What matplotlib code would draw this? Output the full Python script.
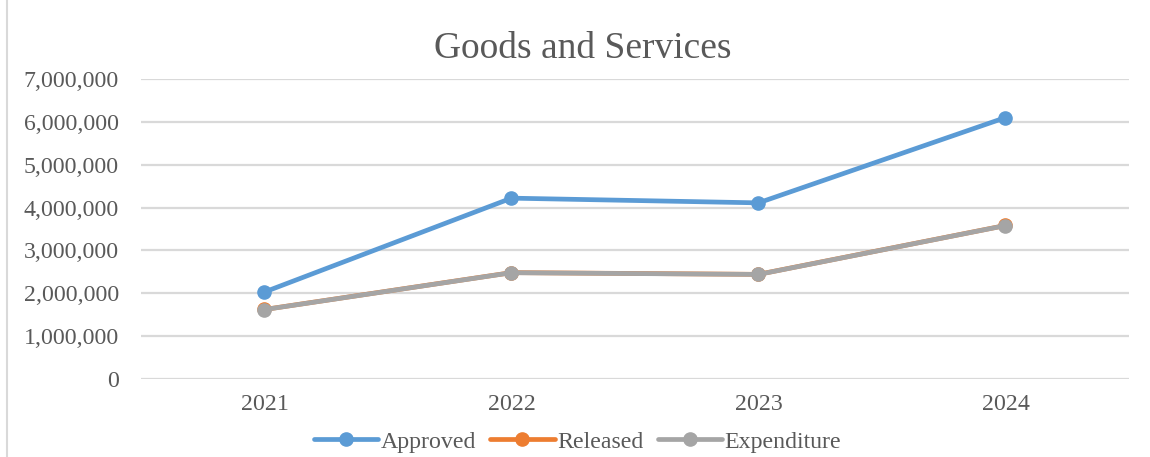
import numpy as np
import matplotlib.pyplot as plt
from matplotlib.lines import Line2D

years = ["2021", "2022", "2023", "2024"]
approved = [2030000, 4220000, 4110000, 6100000]
released = [1622000, 2482000, 2442000, 3582000]
expenditure = [1620000, 2480000, 2440000, 3580000]

plt.rcParams['font.family'] = ['Liberation Serif', 'DejaVu Serif']

fig = plt.figure(figsize=(11.5, 4.57), dpi=100)
ax = fig.add_axes([0.1226, 0.1707, 0.8591, 0.6564])

x = np.arange(len(years))
style = dict(lw=3.4, marker='o', markersize=9.5, solid_capstyle='round')
ax.plot(x, approved, color='#5B9BD5', label='Approved', **style)
ax.plot(x, released, color='#ED7D31', label='Released', **style)
ax.plot(x, expenditure, color='#A5A5A5', label='Expenditure', **style)

ax.set_xlim(-0.5, 3.5)
ax.set_ylim(0, 7000000)
ax.set_yticks(np.arange(0, 7000001, 1000000))
ax.yaxis.set_major_formatter(plt.FuncFormatter(lambda v, p: f"{int(v):,}"))
ax.set_xticks(x)
ax.set_xticklabels(years)
ax.tick_params(axis='both', length=0, labelsize=17.2, labelcolor='#595959')
ax.tick_params(axis='y', pad=16)
ax.tick_params(axis='x', pad=11)
ax.grid(axis='y', color='#D9D9D9', lw=1.6)
ax.set_axisbelow(True)
for s in ax.spines.values():
    s.set_visible(False)

fig.text(0.507, 0.893, "Goods and Services", ha='center', va='center',
         fontsize=27, color='#595959')

ax.legend(loc='center', bbox_to_anchor=(0.502, 0.033), bbox_transform=fig.transFigure,
          ncol=3, frameon=False, fontsize=17.2, labelcolor='#595959',
          handlelength=2.7, handletextpad=0.1, columnspacing=0.6)

# chart area left border
fig.add_artist(Line2D([0.0065, 0.0065], [0, 1], color='#D9D9D9', lw=1.5,
                      transform=fig.transFigure))

fig.savefig("out.png", dpi=100)
